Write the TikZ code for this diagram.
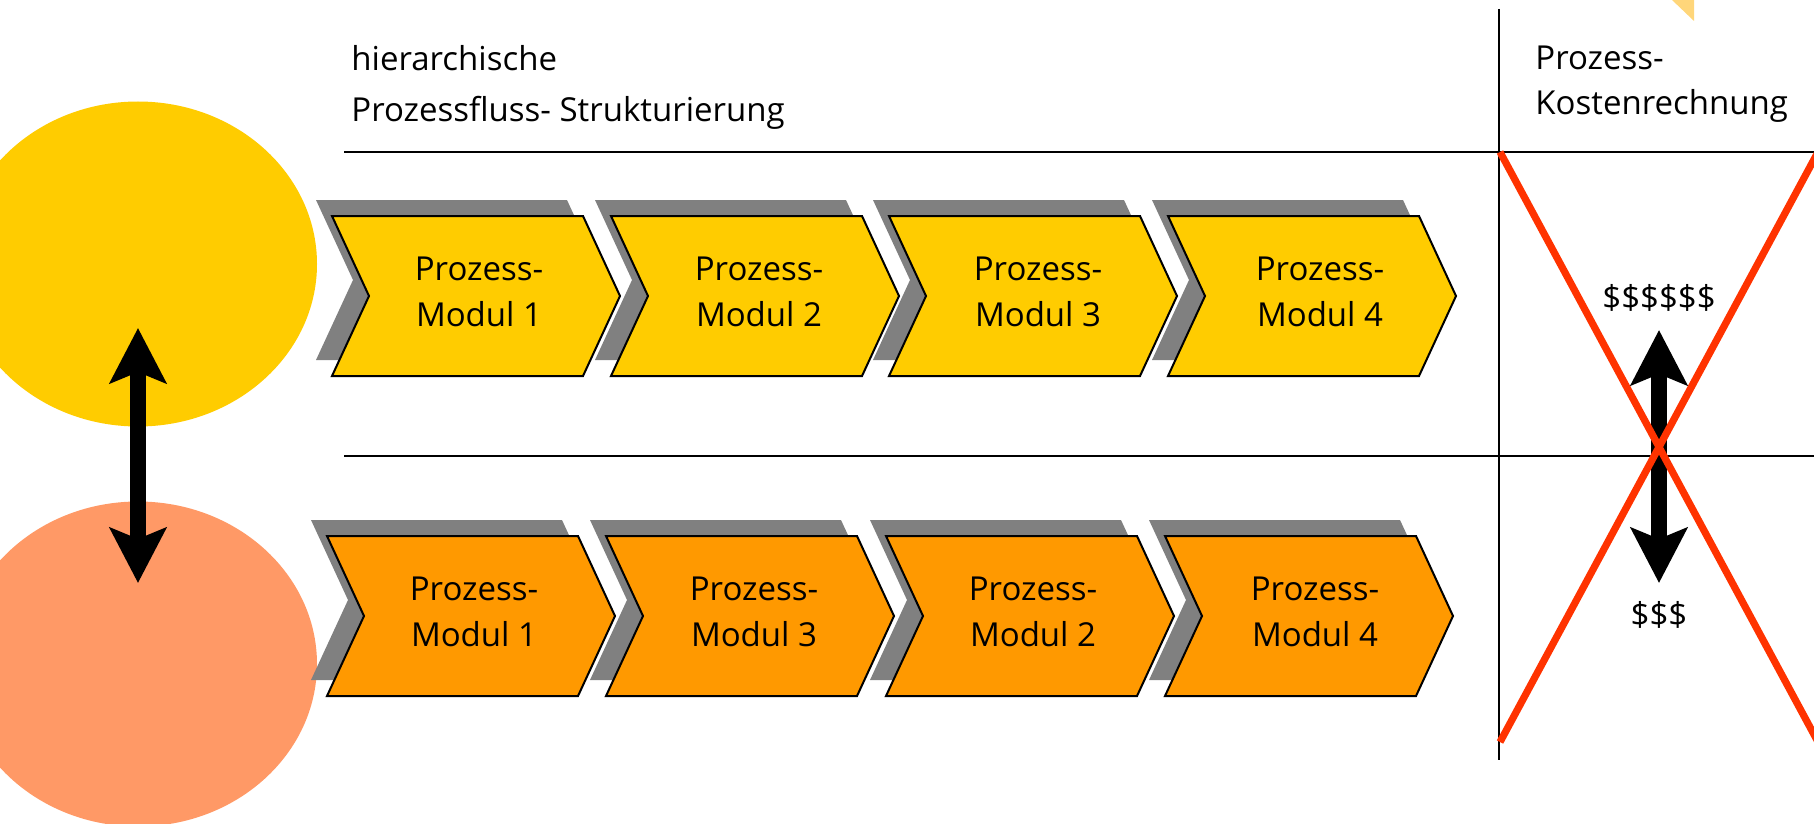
\documentclass[tikz,border=0pt]{standalone}
\usepackage{fontspec}
\setmainfont{Open Sans}
\usetikzlibrary{arrows.meta}

\definecolor{circyellow}{HTML}{FFCC00}
\definecolor{circsalmon}{HTML}{FF9966}
\definecolor{modyellow}{HTML}{FFCC00}
\definecolor{modorange}{HTML}{FF9900}
\definecolor{shadowgray}{HTML}{808080}
\definecolor{crossred}{HTML}{FF3300}
\definecolor{cornerpale}{HTML}{FFD67A}

\begin{document}
\begin{tikzpicture}[line cap=round, line join=round, x=0.5pt, y=-0.5pt,
    modshadow/.style={fill=shadowgray},
    modtop/.style={draw=black, line width=1pt, line join=miter, fill=modyellow},
    modbottom/.style={draw=black, line width=1pt, line join=miter, fill=modorange},
    modtext/.style={align=center, inner sep=0pt, anchor=base, font=\fontsize{16.5}{22.65}\selectfont},
    headtext/.style={align=left, inner sep=0pt, anchor=base west, font=\fontsize{16.5}{25.85}\selectfont},
    costtext/.style={inner sep=0pt, font=\fontsize{16.5}{22.65}\selectfont},
    bigarrow/.style={line width=8pt, line cap=butt,
        {Stealth[length=27.5pt, width=28pt, inset=5.5pt]}-{Stealth[length=27.5pt, width=28pt, inset=5.5pt]}},
    crossline/.style={draw=crossred, line width=3.6pt, line cap=butt}]

    \useasboundingbox (0,0) rectangle (1814,824);

    \fill[cornerpale] (1672,0) -- (1694,0) -- (1694,21) -- cycle;

    \fill[circyellow] (138,264) ellipse (179 and 162.5);
    \fill[circsalmon] (138,664) ellipse (179 and 162.5);

    \draw[line width=1pt, line cap=butt] (344,152) -- (1814,152);
    \draw[line width=1pt, line cap=butt] (344,456) -- (1814,456);
    \draw[line width=1pt, line cap=butt] (1499,9) -- (1499,760);

    \node[headtext] (hierarchie) at (351,122) {hierarchische\\Prozessfluss- Strukturierung};
    \node[costtext, anchor=base west, align=left] (kosten) at (1535,115) {Prozess-\\Kostenrechnung};

    % obere Reihe
    \fill[modshadow] (316,200) -- ++(251,0) -- ++(37,80) -- ++(-37,80) -- ++(-251,0) -- ++(37,-80) -- cycle;
    \draw[modtop] (332,216) -- ++(251,0) -- ++(37,80) -- ++(-37,80) -- ++(-251,0) -- ++(37,-80) -- cycle;
    \node[modtext] (oben1) at (479,326) {Prozess-\\Modul 1};

    \fill[modshadow] (595,200) -- ++(251,0) -- ++(37,80) -- ++(-37,80) -- ++(-251,0) -- ++(37,-80) -- cycle;
    \draw[modtop] (611,216) -- ++(251,0) -- ++(37,80) -- ++(-37,80) -- ++(-251,0) -- ++(37,-80) -- cycle;
    \node[modtext] (oben2) at (759,326) {Prozess-\\Modul 2};

    \fill[modshadow] (873,200) -- ++(251,0) -- ++(37,80) -- ++(-37,80) -- ++(-251,0) -- ++(37,-80) -- cycle;
    \draw[modtop] (889,216) -- ++(251,0) -- ++(37,80) -- ++(-37,80) -- ++(-251,0) -- ++(37,-80) -- cycle;
    \node[modtext] (oben3) at (1038,326) {Prozess-\\Modul 3};

    \fill[modshadow] (1152,200) -- ++(251,0) -- ++(37,80) -- ++(-37,80) -- ++(-251,0) -- ++(37,-80) -- cycle;
    \draw[modtop] (1168,216) -- ++(251,0) -- ++(37,80) -- ++(-37,80) -- ++(-251,0) -- ++(37,-80) -- cycle;
    \node[modtext] (oben4) at (1320,326) {Prozess-\\Modul 4};

    % untere Reihe
    \fill[modshadow] (311,520) -- ++(251,0) -- ++(37,80) -- ++(-37,80) -- ++(-251,0) -- ++(37,-80) -- cycle;
    \draw[modbottom] (327,536) -- ++(251,0) -- ++(37,80) -- ++(-37,80) -- ++(-251,0) -- ++(37,-80) -- cycle;
    \node[modtext] (unten1) at (474,646) {Prozess-\\Modul 1};

    \fill[modshadow] (590,520) -- ++(251,0) -- ++(37,80) -- ++(-37,80) -- ++(-251,0) -- ++(37,-80) -- cycle;
    \draw[modbottom] (606,536) -- ++(251,0) -- ++(37,80) -- ++(-37,80) -- ++(-251,0) -- ++(37,-80) -- cycle;
    \node[modtext] (unten2) at (754,646) {Prozess-\\Modul 3};

    \fill[modshadow] (870,520) -- ++(251,0) -- ++(37,80) -- ++(-37,80) -- ++(-251,0) -- ++(37,-80) -- cycle;
    \draw[modbottom] (886,536) -- ++(251,0) -- ++(37,80) -- ++(-37,80) -- ++(-251,0) -- ++(37,-80) -- cycle;
    \node[modtext] (unten3) at (1033,646) {Prozess-\\Modul 2};

    \fill[modshadow] (1149,520) -- ++(251,0) -- ++(37,80) -- ++(-37,80) -- ++(-251,0) -- ++(37,-80) -- cycle;
    \draw[modbottom] (1165,536) -- ++(251,0) -- ++(37,80) -- ++(-37,80) -- ++(-251,0) -- ++(37,-80) -- cycle;
    \node[modtext] (unten4) at (1315,646) {Prozess-\\Modul 4};

    % Kosten
    \node[costtext] (vielgeld) at (1659,298) {\$\$\$\$\$\$};
    \node[costtext] (wenig) at (1659,615) {\$\$\$};

    \coordinate (linksoben) at (138,328);
    \coordinate (linksunten) at (138,583);
    \coordinate (rechtsoben) at (1659,330);
    \coordinate (rechtsunten) at (1659,583);
    \draw[bigarrow] (linksunten) -- (linksoben);
    \draw[bigarrow] (rechtsunten) -- (rechtsoben);

    \draw[crossline] (1500,152) -- (1818,742);
    \draw[crossline] (1500,742) -- (1818,152);

\end{tikzpicture}
\end{document}
